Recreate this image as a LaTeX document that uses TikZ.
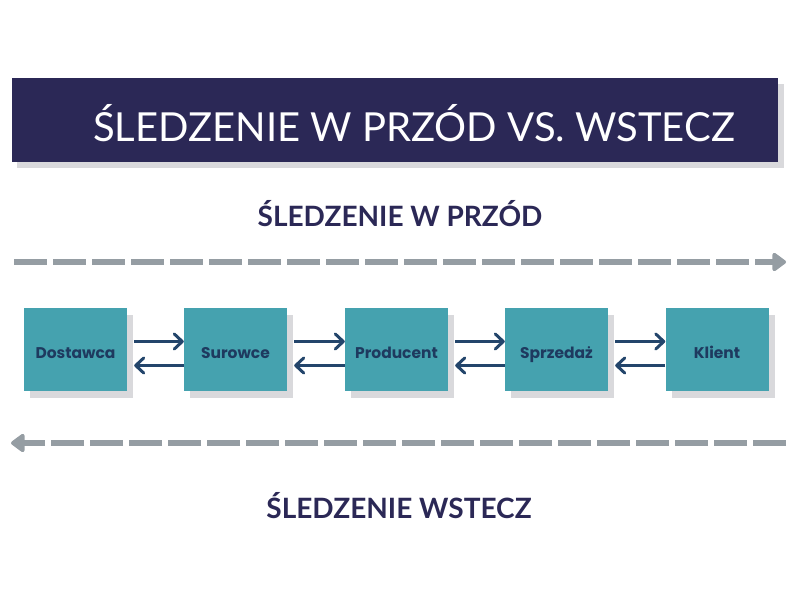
\documentclass[tikz,border=0pt]{standalone}
\usepackage{fontspec}
\setmainfont{Lato}
\newfontfamily\boxfont{Poppins}
\usetikzlibrary{arrows.meta}
\definecolor{banner}{HTML}{2B2856}
\definecolor{teal}{HTML}{45A2AF}
\definecolor{boxtext}{HTML}{1E3A5F}
\definecolor{arr}{HTML}{23456B}
\definecolor{dashgray}{HTML}{959DA3}
\definecolor{shadowgray}{HTML}{D9D9DC}
\begin{document}
\begin{tikzpicture}[x=1pt,y=-1pt,
  stagebox/.style={fill=teal, minimum width=103pt, minimum height=83pt, inner sep=0pt,
    text height=17pt, text depth=0pt,
    text=boxtext, font=\boxfont\bfseries\fontsize{15.5}{18}\selectfont},
  shadowbox/.style={fill=shadowgray, minimum width=103pt, minimum height=83pt, inner sep=0pt},
  flow/.style={draw=arr, line width=3pt, -{Straight Barb[length=8pt,width=15pt,line cap=round,line join=round]}},
  track/.style={draw=dashgray, line width=6pt, dash pattern=on 33pt off 6pt,
    -{Triangle[length=15pt,width=21pt,round]}},
  heading/.style={text=banner, font=\bfseries\fontsize{28}{32}\selectfont}]
\useasboundingbox (0,0) rectangle (800,600);
% banner
\fill[shadowgray] (17,84) rectangle (784,168);
\fill[banner] (12,78) rectangle (778,162);
\node[text=white, font=\fontsize{40}{44}\selectfont] (title) at (414,123) {ŚLEDZENIE W PRZÓD VS. WSTECZ};
% headings
\node[heading] (fwd) at (400,214) {ŚLEDZENIE W PRZÓD};
\node[heading] (bwd) at (399,506) {ŚLEDZENIE WSTECZ};
% tracks
\coordinate (t1s) at (14,262);
\coordinate (t1e) at (786,262);
\coordinate (t2s) at (786,443);
\coordinate (t2e) at (11,443);
\draw[track] (t1s) -- (t1e);
\draw[track] (t2s) -- (t2e);
% boxes
\foreach \x in {75.5,235.5,396.5,556.5,717}{
  \node[shadowbox] at (\x+6,356.5) {};
}
\node[stagebox] (a) at (75.5,349.5) {Dostawca};
\node[stagebox] (b) at (235.5,349.5) {Surowce};
\node[stagebox] (c) at (396.5,349.5) {Producent};
\node[stagebox] (d) at (556.5,349.5) {Sprzedaż};
\node[stagebox] (e) at (717,349.5) {Klient};
% arrows
\foreach \p/\q in {a/b,b/c,c/d,d/e}{
  \draw[flow] ([xshift=7pt,yshift=8pt]\p.east) -- ([yshift=8pt]\q.west);
  \draw[flow] ([yshift=-16pt]\q.west) -- ([xshift=7pt,yshift=-16pt]\p.east);
}
\end{tikzpicture}
\end{document}
